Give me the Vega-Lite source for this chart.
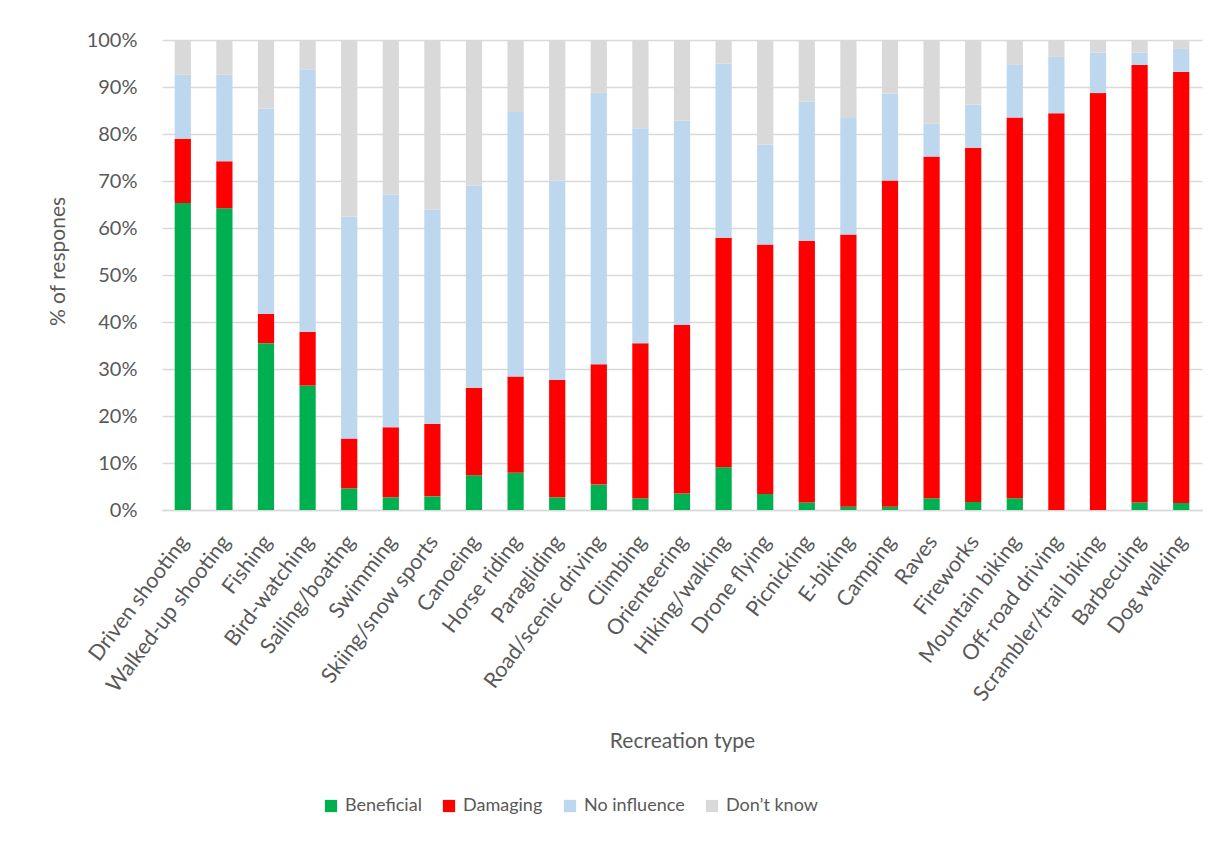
{
  "$schema": "https://vega.github.io/schema/vega-lite/v6.json",
  "autosize": "none",
  "padding": {"left": 162, "top": 40, "right": 15, "bottom": 334},
  "width": 1040,
  "height": 470,
  "background": "white",
  "config": {
    "font": "Lato",
    "view": {"stroke": null},
    "axis": {"labelColor": "#595959", "titleColor": "#595959", "labelFont": "Lato", "titleFont": "Lato", "titleFontWeight": "normal"},
    "legend": {"labelColor": "#595959", "labelFont": "Lato"}
  },
  "data": {
    "values": [
      {"recreation": "Driven shooting", "Beneficial": 65.3, "Damaging": 13.7, "No influence": 13.6, "Don’t know": 7.4},
      {"recreation": "Walked-up shooting", "Beneficial": 64.2, "Damaging": 10.0, "No influence": 18.4, "Don’t know": 7.4},
      {"recreation": "Fishing", "Beneficial": 35.5, "Damaging": 6.2, "No influence": 43.7, "Don’t know": 14.6},
      {"recreation": "Bird-watching", "Beneficial": 26.5, "Damaging": 11.4, "No influence": 55.8, "Don’t know": 6.3},
      {"recreation": "Sailing/boating", "Beneficial": 4.6, "Damaging": 10.6, "No influence": 47.2, "Don’t know": 37.6},
      {"recreation": "Swimming", "Beneficial": 2.7, "Damaging": 14.9, "No influence": 49.5, "Don’t know": 32.9},
      {"recreation": "Skiing/snow sports", "Beneficial": 2.9, "Damaging": 15.4, "No influence": 45.6, "Don’t know": 36.1},
      {"recreation": "Canoeing", "Beneficial": 7.4, "Damaging": 18.6, "No influence": 43.0, "Don’t know": 31.0},
      {"recreation": "Horse riding", "Beneficial": 7.9, "Damaging": 20.5, "No influence": 56.3, "Don’t know": 15.3},
      {"recreation": "Paragliding", "Beneficial": 2.7, "Damaging": 25.0, "No influence": 42.4, "Don’t know": 29.9},
      {"recreation": "Road/scenic driving", "Beneficial": 5.4, "Damaging": 25.6, "No influence": 57.8, "Don’t know": 11.2},
      {"recreation": "Climbing", "Beneficial": 2.5, "Damaging": 33.0, "No influence": 45.7, "Don’t know": 18.8},
      {"recreation": "Orienteering", "Beneficial": 3.5, "Damaging": 35.9, "No influence": 43.4, "Don’t know": 17.2},
      {"recreation": "Hiking/walking", "Beneficial": 9.1, "Damaging": 48.8, "No influence": 37.1, "Don’t know": 5.0},
      {"recreation": "Drone flying", "Beneficial": 3.4, "Damaging": 53.1, "No influence": 21.2, "Don’t know": 22.3},
      {"recreation": "Picnicking", "Beneficial": 1.6, "Damaging": 55.7, "No influence": 29.6, "Don’t know": 13.1},
      {"recreation": "E-biking", "Beneficial": 0.7, "Damaging": 57.9, "No influence": 24.8, "Don’t know": 16.6},
      {"recreation": "Camping", "Beneficial": 0.7, "Damaging": 69.4, "No influence": 18.5, "Don’t know": 11.4},
      {"recreation": "Raves", "Beneficial": 2.5, "Damaging": 72.7, "No influence": 7.0, "Don’t know": 17.8},
      {"recreation": "Fireworks", "Beneficial": 1.7, "Damaging": 75.4, "No influence": 9.1, "Don’t know": 13.8},
      {"recreation": "Mountain biking", "Beneficial": 2.5, "Damaging": 81.0, "No influence": 11.2, "Don’t know": 5.3},
      {"recreation": "Off-road driving", "Beneficial": 0.0, "Damaging": 84.4, "No influence": 12.0, "Don’t know": 3.6},
      {"recreation": "Scrambler/trail biking", "Beneficial": 0.0, "Damaging": 88.7, "No influence": 8.6, "Don’t know": 2.7},
      {"recreation": "Barbecuing", "Beneficial": 1.6, "Damaging": 93.1, "No influence": 2.6, "Don’t know": 2.7},
      {"recreation": "Dog walking", "Beneficial": 1.5, "Damaging": 91.7, "No influence": 4.9, "Don’t know": 1.9}
    ]
  },
  "transform": [
    {"fold": ["Beneficial", "Damaging", "No influence", "Don’t know"], "as": ["response", "share"]},
    {"window": [{"op": "row_number", "as": "layer"}], "groupby": ["recreation"]}
  ],
  "mark": {"type": "bar"},
  "encoding": {
    "x": {
      "field": "recreation",
      "type": "nominal",
      "sort": null,
      "scale": {"paddingInner": 0.61, "paddingOuter": 0.305},
      "axis": {
        "title": "Recreation type",
        "titleFontSize": 21,
        "titlePadding": 26,
        "labelAngle": -53,
        "labelAlign": "right",
        "labelBaseline": "middle",
        "labelFontSize": 21.5,
        "labelLimit": 300,
        "labelOffset": 2,
        "labelPadding": 28,
        "ticks": false,
        "domainColor": "#d9d9d9",
        "domainWidth": 1.5
      }
    },
    "y": {
      "field": "share",
      "type": "quantitative",
      "stack": "zero",
      "scale": {"domain": [0, 100], "nice": false},
      "axis": {
        "title": "% of respones",
        "titleFontSize": 21,
        "titlePadding": 18,
        "titleY": 221,
        "values": [0, 10, 20, 30, 40, 50, 60, 70, 80, 90, 100],
        "labelExpr": "datum.value + '%'",
        "labelFontSize": 20,
        "labelPadding": 25,
        "ticks": false,
        "domain": false,
        "gridColor": "#d9d9d9",
        "gridWidth": 1.5
      }
    },
    "order": {"field": "layer", "type": "quantitative", "sort": "ascending"},
    "color": {
      "field": "response",
      "type": "nominal",
      "sort": ["Beneficial", "Damaging", "No influence", "Don’t know"],
      "scale": {
        "domain": ["Beneficial", "Damaging", "No influence", "Don’t know"],
        "range": ["#00b050", "#ff0000", "#bdd7ee", "#d9d9d9"]
      },
      "legend": {
        "title": null,
        "orient": "none",
        "legendX": 160,
        "legendY": 757,
        "direction": "horizontal",
        "symbolType": "square",
        "symbolSize": 150,
        "symbolStrokeWidth": 0,
        "labelFontSize": 18,
        "labelOffset": 5,
        "columnPadding": 18
      }
    }
  }
}
